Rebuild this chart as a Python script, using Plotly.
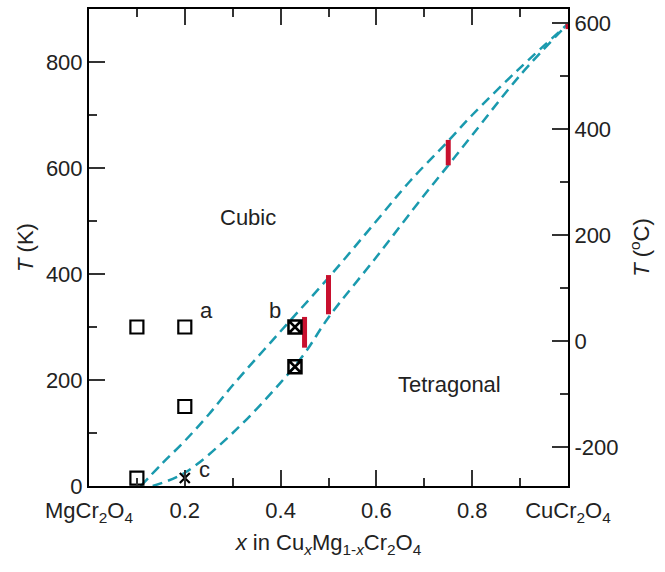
import plotly.graph_objects as go

# Phase boundary curves (x, T in K)
upper_x = [0.108, 0.15, 0.2, 0.25, 0.3, 0.4, 0.5, 0.6, 0.67, 0.75, 0.8, 0.9, 1.0]
upper_T = [0, 40, 85, 135, 190, 292, 393, 500, 575, 651, 700, 789, 872]
lower_x = [0.133, 0.2, 0.3, 0.4, 0.45, 0.5, 0.6, 0.7, 0.75, 0.8, 0.9, 1.0]
lower_T = [0, 25, 100, 195, 250, 318, 432, 549, 605, 662, 775, 872]

# Open squares
sq_x = [0.1, 0.2, 0.2, 0.1]
sq_T = [300, 300, 150, 15]
# Crossed squares
xsq_x = [0.43, 0.43]
xsq_T = [300, 225]
# Cross marker
cross_x = [0.2]
cross_T = [15]

# Red transition bars (x, T_low, T_high)
bar_x = [0.45, 0.5, 0.75, 1.0]
bar_lo = [261, 324, 605, 862]
bar_hi = [319, 398, 653, 872]

# Text annotations
labels = ["a", "b", "c", "Cubic", "Tetragonal"]
label_x = [0.246, 0.388, 0.2415, 0.331, 0.753]
label_T = [332, 332, 32, 506, 192]

xtick_vals = [0, 0.2, 0.4, 0.6, 0.8, 1.0]
xtick_text = ["MgCr<sub>2</sub>O<sub>4</sub>", "0.2", "0.4", "0.6", "0.8", "CuCr<sub>2</sub>O<sub>4</sub>"]
ytick_vals = [0, 200, 400, 600, 800]
y2tick_vals = [-200, 0, 200, 400, 600]
y2tick_text = ["-200", "0", "200", "400", "600"]

teal = "#1a9aae"
red = "#c8102e"
FONT = "Liberation Sans, Arial, sans-serif"
TXT = "#222"
FS = 22

fig = go.Figure()

fig.add_trace(go.Scatter(x=upper_x, y=upper_T, mode="lines", line=dict(color=teal, width=2.5, dash="10px,6px", shape="spline"), showlegend=False))
fig.add_trace(go.Scatter(x=lower_x, y=lower_T, mode="lines", line=dict(color=teal, width=2.5, dash="10px,6px", shape="spline"), showlegend=False))

for bx, lo, hi in zip(bar_x, bar_lo, bar_hi):
    fig.add_trace(go.Scatter(x=[bx, bx], y=[lo, hi], mode="lines", line=dict(color=red, width=5), showlegend=False, cliponaxis=False))

fig.add_trace(go.Scatter(x=sq_x, y=sq_T, mode="markers", marker=dict(symbol="square-open", size=13, color="black", line=dict(width=2.2, color="black")), showlegend=False, cliponaxis=False))
fig.add_trace(go.Scatter(x=xsq_x, y=xsq_T, mode="markers", marker=dict(symbol="square-x-open", size=13, color="black", line=dict(width=2.5, color="black")), showlegend=False))
fig.add_trace(go.Scatter(x=cross_x, y=cross_T, mode="markers", marker=dict(symbol="x-thin", size=10, color="black", line=dict(width=2.2, color="black")), showlegend=False, cliponaxis=False))

for t, lx, ly in zip(labels, label_x, label_T):
    fig.add_annotation(x=lx, y=ly, text=t, showarrow=False, font=dict(family=FONT, size=FS, color=TXT), xanchor="center", yanchor="middle")

# dummy trace for secondary axis
fig.add_trace(go.Scatter(x=[0.5], y=[0], yaxis="y2", mode="markers", marker=dict(opacity=0), showlegend=False, hoverinfo="skip"))

axis_common = dict(showgrid=False, zeroline=False, showline=True, linecolor="black", linewidth=2,
                   ticks="inside", ticklen=16, tickwidth=1.5, tickcolor="#333",
                   tickfont=dict(family=FONT, size=FS, color=TXT))
minor_common = dict(ticks="inside", ticklen=8, tickwidth=1.5, tickcolor="#333")

fig.update_layout(
    width=665, height=572,
    margin=dict(l=89, r=97, t=7, b=86),
    plot_bgcolor="white", paper_bgcolor="white",
    xaxis=dict(range=[0, 1], tickvals=xtick_vals, ticktext=xtick_text, mirror="ticks",
               ticklabelstandoff=4,
               minor=dict(dtick=0.1, tick0=0, **minor_common),
               title=dict(text="<i>x</i> in Cu<sub><i>x</i></sub>Mg<sub>1-<i>x</i></sub>Cr<sub>2</sub>O<sub>4</sub>",
                          font=dict(family=FONT, size=FS, color=TXT), standoff=10),
               **axis_common),
    yaxis=dict(range=[0, 900], tickvals=ytick_vals,
               minor=dict(dtick=100, tick0=0, **minor_common),
               title=dict(text="<i>T</i> (K)", font=dict(family=FONT, size=FS, color=TXT), standoff=6),
               **axis_common),
    yaxis2=dict(range=[-273.15, 626.85], overlaying="y", side="right", tickvals=y2tick_vals, ticktext=y2tick_text,
                minor=dict(dtick=100, tick0=0, **minor_common),
                title=dict(text="<i>T</i> (<sup>o</sup>C)", font=dict(family=FONT, size=FS, color=TXT), standoff=16),
                **axis_common),
)

fig.write_html("out.html")
